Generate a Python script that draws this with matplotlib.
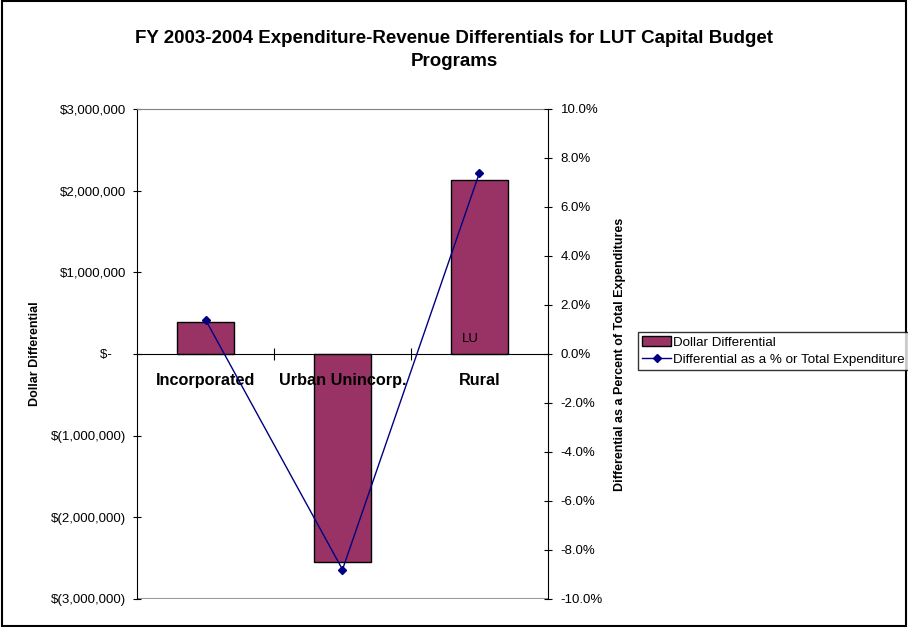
import matplotlib.pyplot as plt
from matplotlib.patches import Rectangle, Patch
from matplotlib.lines import Line2D
from matplotlib.ticker import FuncFormatter

plt.rcParams['font.family'] = ['Liberation Sans', 'DejaVu Sans']

categories = ['Incorporated', 'Urban Unincorp.', 'Rural']
dollar_diff = [390000, -2545000, 2130000]
pct_diff = [1.4, -8.8, 7.4]

bar_color = '#993366'
line_color = '#000080'


def dollar_fmt(v, pos):
    if v == 0:
        return '$-    '
    if v < 0:
        return '$({:,.0f})'.format(-v)
    return '${:,.0f}'.format(v)


fig = plt.figure(figsize=(9.08, 6.27), dpi=100)
ax = fig.add_axes([0.1509, 0.0447, 0.4526, 0.7815])
x = list(range(len(categories)))

ax.bar(x, dollar_diff, width=0.41, color=bar_color, edgecolor='black', linewidth=1, zorder=2)
ax.set_xlim(-0.5, 2.5)
ax.set_ylim(-3000000, 3000000)
ax.set_yticks(range(-3000000, 3000001, 1000000))
ax.yaxis.set_major_formatter(FuncFormatter(dollar_fmt))
ax.tick_params(axis='y', labelsize=9.5, direction='inout', length=6, pad=5)

ax.spines['bottom'].set_position(('data', 0))
ax.spines['top'].set_color('#808080')
ax.spines['right'].set_visible(False)
ax.axhline(-3000000, color='#999999', linewidth=1.5, zorder=1)
ax.set_xticks([0.5, 1.5])
ax.set_xticklabels([])
ax.tick_params(axis='x', direction='inout', length=8)

for i, c in enumerate(categories):
    ax.text(i, -330000, c, ha='center', va='center', fontsize=11.7, fontweight='bold', zorder=5)
ax.text(1.87, 180000, 'LU', ha='left', va='center', fontsize=9.5, zorder=5)

ax.set_ylabel('Dollar Differential', fontsize=9, fontweight='bold')
ax.yaxis.set_label_coords(-0.234, 0.5)

ax2 = ax.twinx()
ax2.plot(x, pct_diff, color=line_color, marker='D', markersize=4.5, linewidth=1.0, zorder=3)
ax2.set_ylim(-10, 10)
ax2.set_yticks(range(-10, 11, 2))
ax2.yaxis.set_major_formatter(FuncFormatter(lambda v, p: '{:.1f}%'.format(v)))
ax2.tick_params(axis='y', labelsize=9.5, direction='inout', length=6, pad=6)
for s in ['top', 'left', 'bottom']:
    ax2.spines[s].set_visible(False)
ax2.set_ylabel('Differential as a Percent of Total Expenditures', fontsize=9, fontweight='bold')
ax2.yaxis.set_label_coords(1.161, 0.5)

fig.suptitle('FY 2003-2004 Expenditure-Revenue Differentials for LUT Capital Budget\nPrograms',
             x=0.5, y=0.952, fontsize=13.5, fontweight='bold', linespacing=1.45)

handles = [Patch(facecolor=bar_color, edgecolor='black'),
           Line2D([], [], color=line_color, marker='D', markersize=4, linewidth=1.0)]
fig.legend(handles, ['Dollar Differential', 'Differential as a % or Total Expenditure'],
           loc='center left', bbox_to_anchor=(0.7026, 0.44), fontsize=9.6,
           frameon=True, fancybox=False, edgecolor='black', borderpad=0.3,
           handlelength=2.2, handletextpad=0.1, labelspacing=0.35, borderaxespad=0)

fig.patches.append(Rectangle((0.002, 0.002), 0.996, 0.996, transform=fig.transFigure,
                             fill=False, edgecolor='black', linewidth=1.5))

fig.savefig('out.png', dpi=100)
